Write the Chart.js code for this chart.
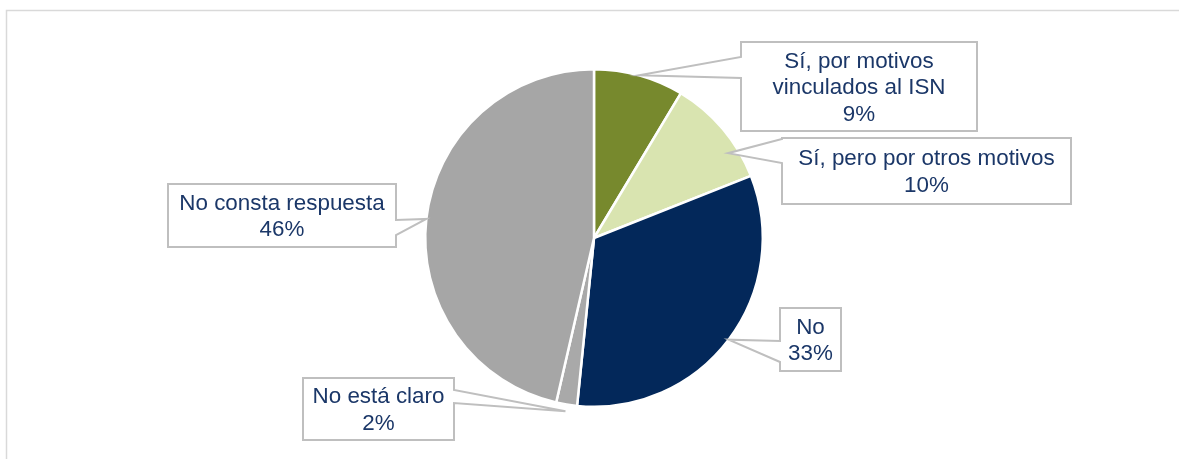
<!DOCTYPE html>
<html>
<head>
<meta charset="utf-8">
<script src="https://cdn.jsdelivr.net/npm/chart.js@4"></script>
<style>
  html, body { margin: 0; padding: 0; background: #fff; }
  #wrap { width: 1179px; height: 459px; }
</style>
</head>
<body>
<div id="wrap"><canvas id="pieChart" width="1179" height="459"></canvas></div>
<script>
// ================== Datos ==================
const categories = [
  ["Sí, por motivos", "vinculados al ISN"],
  ["Sí, pero por otros motivos"],
  ["No"],
  ["No está claro"],
  ["No consta respuesta"]
];
const values = [8.6, 10.4, 32.6, 2.0, 46.4];
const sliceColors = ["#77892D", "#D9E4B0", "#03285A", "#A9A9A9", "#A6A6A6"];

// cajas de las etiquetas (posición en px) + punta de la flecha
const boxes = [
  { x1: 741, y1: 42, x2: 977, y2: 131, side: "left", b1: 57, b2: 78, frac: 1.0, shift: 0 },
  { x1: 782, y1: 138, x2: 1071, y2: 204, side: "left", b1: 139, b2: 163, frac: 0.94, shift: 8 },
  { x1: 780, y1: 308, x2: 841, y2: 371, side: "left", b1: 341, b2: 362, frac: 1.0, shift: 0 },
  { x1: 303, y1: 378, x2: 454, y2: 440, side: "right", b1: 390, b2: 403, frac: 1.04, shift: 0 },
  { x1: 168, y1: 184, x2: 396, y2: 247, side: "right", b1: 220, b2: 235, frac: 1.0, shift: 0 }
];

const textColor = "#1B3768";
const boxBorder = "#BFBFBF";

// ================== Marco ==================
const framePlugin = {
  id: "frame",
  beforeDraw(chart) {
    const ctx = chart.ctx;
    ctx.save();
    ctx.fillStyle = "#fff";
    ctx.fillRect(0, 0, chart.width, chart.height);
    ctx.strokeStyle = "#D9D9D9";
    ctx.lineWidth = 1.5;
    ctx.beginPath();
    ctx.moveTo(6.5, chart.height);
    ctx.lineTo(6.5, 10.5);
    ctx.lineTo(chart.width, 10.5);
    ctx.stroke();
    ctx.restore();
  }
};

// ================== Etiquetas tipo bocadillo ==================
const calloutPlugin = {
  id: "callouts",
  afterDatasetsDraw(chart) {
    const ctx = chart.ctx;
    const arcs = chart.getDatasetMeta(0).data;
    ctx.save();
    arcs.forEach((arc, i) => {
      const b = boxes[i];
      const p = arc.getProps(["x", "y", "startAngle", "endAngle", "outerRadius"], true);
      const mid = (p.startAngle + p.endAngle) / 2 + b.shift * Math.PI / 180;
      const tx = p.x + Math.cos(mid) * p.outerRadius * b.frac;
      const ty = p.y + Math.sin(mid) * p.outerRadius * b.frac;

      ctx.beginPath();
      ctx.moveTo(b.x1, b.y1);
      ctx.lineTo(b.x2, b.y1);
      if (b.side === "right") {
        ctx.lineTo(b.x2, b.b1);
        ctx.lineTo(tx, ty);
        ctx.lineTo(b.x2, b.b2);
      }
      ctx.lineTo(b.x2, b.y2);
      ctx.lineTo(b.x1, b.y2);
      if (b.side === "left") {
        ctx.lineTo(b.x1, b.b2);
        ctx.lineTo(tx, ty);
        ctx.lineTo(b.x1, b.b1);
      }
      ctx.closePath();
      ctx.fillStyle = "#fff";
      ctx.fill();
      ctx.strokeStyle = boxBorder;
      ctx.lineWidth = 2;
      ctx.lineJoin = "miter";
      ctx.stroke();

      // texto
      const lines = categories[i].concat([Math.round(values[i]) + "%"]);
      const cx = (b.x1 + b.x2) / 2;
      const cy = (b.y1 + b.y2) / 2 + 1.5;
      const lh = 26.5;
      ctx.fillStyle = textColor;
      ctx.font = "22.4px 'Liberation Sans', Arial, sans-serif";
      ctx.textAlign = "center";
      ctx.textBaseline = "middle";
      lines.forEach((t, k) => {
        ctx.fillText(t, cx, cy + (k - (lines.length - 1) / 2) * lh);
      });
    });
    ctx.restore();
  }
};

// ================== Gráfico ==================
new Chart(document.getElementById("pieChart").getContext("2d"), {
  type: "pie",
  data: {
    labels: categories.map(c => c.join(" ")),
    datasets: [{
      data: values,
      backgroundColor: sliceColors,
      borderColor: "#fff",
      borderWidth: 2.5
    }]
  },
  options: {
    responsive: false,
    animation: false,
    layout: {
      padding: { left: 424, right: 415, top: 68, bottom: 51 }
    },
    plugins: {
      legend: { display: false },
      tooltip: { enabled: false }
    }
  },
  plugins: [framePlugin, calloutPlugin]
});
</script>
</body>
</html>
